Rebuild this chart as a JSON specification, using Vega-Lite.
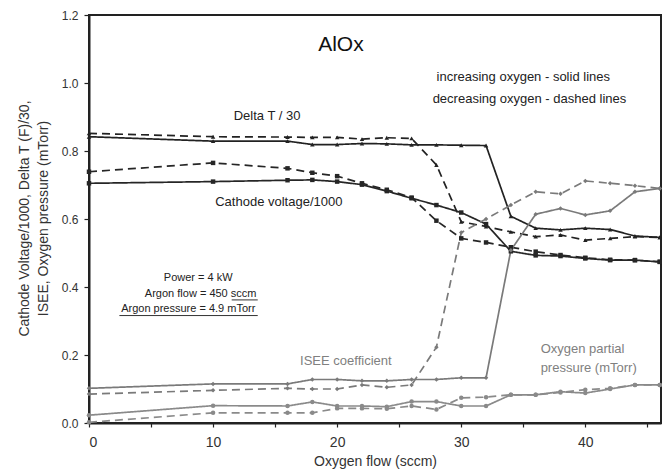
{
  "$schema": "https://vega.github.io/schema/vega-lite/v6.json",
  "width": 572,
  "height": 408,
  "autosize": {"type": "none"},
  "padding": {"left": 89, "top": 15, "right": 8, "bottom": 50},
  "background": "white",
  "config": {
    "font": "Liberation Sans",
    "view": {"stroke": "#222", "strokeWidth": 2},
    "axis": {"grid": false, "domainColor": "#222", "domainWidth": 2, "tickColor": "#222", "tickWidth": 1.2, "labelColor": "#333", "titleColor": "#333", "titleFontWeight": "normal"}
  },
  "datasets": {
    "pts": [
      {"s": "DeltaT", "dir": "inc", "x": 0, "y": 0.842}, {"s": "DeltaT", "dir": "inc", "x": 10, "y": 0.829}, {"s": "DeltaT", "dir": "inc", "x": 16, "y": 0.829}, {"s": "DeltaT", "dir": "inc", "x": 18, "y": 0.819}, {"s": "DeltaT", "dir": "inc", "x": 20, "y": 0.819}, {"s": "DeltaT", "dir": "inc", "x": 22, "y": 0.822}, {"s": "DeltaT", "dir": "inc", "x": 24, "y": 0.821}, {"s": "DeltaT", "dir": "inc", "x": 26, "y": 0.818}, {"s": "DeltaT", "dir": "inc", "x": 28, "y": 0.818}, {"s": "DeltaT", "dir": "inc", "x": 30, "y": 0.817}, {"s": "DeltaT", "dir": "inc", "x": 32, "y": 0.816}, {"s": "DeltaT", "dir": "inc", "x": 34, "y": 0.608}, {"s": "DeltaT", "dir": "inc", "x": 36, "y": 0.573}, {"s": "DeltaT", "dir": "inc", "x": 38, "y": 0.568}, {"s": "DeltaT", "dir": "inc", "x": 40, "y": 0.573}, {"s": "DeltaT", "dir": "inc", "x": 42, "y": 0.569}, {"s": "DeltaT", "dir": "inc", "x": 44, "y": 0.55}, {"s": "DeltaT", "dir": "inc", "x": 46, "y": 0.546},
      {"s": "DeltaT", "dir": "dec", "x": 0, "y": 0.852}, {"s": "DeltaT", "dir": "dec", "x": 10, "y": 0.842}, {"s": "DeltaT", "dir": "dec", "x": 16, "y": 0.841}, {"s": "DeltaT", "dir": "dec", "x": 18, "y": 0.84}, {"s": "DeltaT", "dir": "dec", "x": 20, "y": 0.84}, {"s": "DeltaT", "dir": "dec", "x": 22, "y": 0.835}, {"s": "DeltaT", "dir": "dec", "x": 24, "y": 0.839}, {"s": "DeltaT", "dir": "dec", "x": 26, "y": 0.837}, {"s": "DeltaT", "dir": "dec", "x": 28, "y": 0.759}, {"s": "DeltaT", "dir": "dec", "x": 30, "y": 0.592}, {"s": "DeltaT", "dir": "dec", "x": 32, "y": 0.578}, {"s": "DeltaT", "dir": "dec", "x": 34, "y": 0.562}, {"s": "DeltaT", "dir": "dec", "x": 36, "y": 0.548}, {"s": "DeltaT", "dir": "dec", "x": 38, "y": 0.553}, {"s": "DeltaT", "dir": "dec", "x": 40, "y": 0.538}, {"s": "DeltaT", "dir": "dec", "x": 42, "y": 0.543}, {"s": "DeltaT", "dir": "dec", "x": 44, "y": 0.548}, {"s": "DeltaT", "dir": "dec", "x": 46, "y": 0.546},
      {"s": "Cathode", "dir": "inc", "x": 0, "y": 0.705}, {"s": "Cathode", "dir": "inc", "x": 10, "y": 0.71}, {"s": "Cathode", "dir": "inc", "x": 16, "y": 0.714}, {"s": "Cathode", "dir": "inc", "x": 18, "y": 0.715}, {"s": "Cathode", "dir": "inc", "x": 20, "y": 0.71}, {"s": "Cathode", "dir": "inc", "x": 22, "y": 0.701}, {"s": "Cathode", "dir": "inc", "x": 24, "y": 0.682}, {"s": "Cathode", "dir": "inc", "x": 26, "y": 0.661}, {"s": "Cathode", "dir": "inc", "x": 28, "y": 0.641}, {"s": "Cathode", "dir": "inc", "x": 30, "y": 0.619}, {"s": "Cathode", "dir": "inc", "x": 32, "y": 0.585}, {"s": "Cathode", "dir": "inc", "x": 34, "y": 0.505}, {"s": "Cathode", "dir": "inc", "x": 36, "y": 0.493}, {"s": "Cathode", "dir": "inc", "x": 38, "y": 0.491}, {"s": "Cathode", "dir": "inc", "x": 40, "y": 0.484}, {"s": "Cathode", "dir": "inc", "x": 42, "y": 0.479}, {"s": "Cathode", "dir": "inc", "x": 44, "y": 0.479}, {"s": "Cathode", "dir": "inc", "x": 46, "y": 0.474},
      {"s": "Cathode", "dir": "dec", "x": 0, "y": 0.739}, {"s": "Cathode", "dir": "dec", "x": 10, "y": 0.765}, {"s": "Cathode", "dir": "dec", "x": 16, "y": 0.749}, {"s": "Cathode", "dir": "dec", "x": 18, "y": 0.736}, {"s": "Cathode", "dir": "dec", "x": 20, "y": 0.726}, {"s": "Cathode", "dir": "dec", "x": 22, "y": 0.705}, {"s": "Cathode", "dir": "dec", "x": 24, "y": 0.686}, {"s": "Cathode", "dir": "dec", "x": 26, "y": 0.663}, {"s": "Cathode", "dir": "dec", "x": 28, "y": 0.595}, {"s": "Cathode", "dir": "dec", "x": 30, "y": 0.543}, {"s": "Cathode", "dir": "dec", "x": 32, "y": 0.531}, {"s": "Cathode", "dir": "dec", "x": 34, "y": 0.517}, {"s": "Cathode", "dir": "dec", "x": 36, "y": 0.504}, {"s": "Cathode", "dir": "dec", "x": 38, "y": 0.494}, {"s": "Cathode", "dir": "dec", "x": 40, "y": 0.486}, {"s": "Cathode", "dir": "dec", "x": 42, "y": 0.48}, {"s": "Cathode", "dir": "dec", "x": 44, "y": 0.479}, {"s": "Cathode", "dir": "dec", "x": 46, "y": 0.474},
      {"s": "ISEE", "dir": "inc", "x": 0, "y": 0.102}, {"s": "ISEE", "dir": "inc", "x": 10, "y": 0.115}, {"s": "ISEE", "dir": "inc", "x": 16, "y": 0.115}, {"s": "ISEE", "dir": "inc", "x": 18, "y": 0.128}, {"s": "ISEE", "dir": "inc", "x": 20, "y": 0.128}, {"s": "ISEE", "dir": "inc", "x": 22, "y": 0.124}, {"s": "ISEE", "dir": "inc", "x": 24, "y": 0.124}, {"s": "ISEE", "dir": "inc", "x": 26, "y": 0.128}, {"s": "ISEE", "dir": "inc", "x": 28, "y": 0.128}, {"s": "ISEE", "dir": "inc", "x": 30, "y": 0.133}, {"s": "ISEE", "dir": "inc", "x": 32, "y": 0.133}, {"s": "ISEE", "dir": "inc", "x": 34, "y": 0.508}, {"s": "ISEE", "dir": "inc", "x": 36, "y": 0.614}, {"s": "ISEE", "dir": "inc", "x": 38, "y": 0.631}, {"s": "ISEE", "dir": "inc", "x": 40, "y": 0.612}, {"s": "ISEE", "dir": "inc", "x": 42, "y": 0.624}, {"s": "ISEE", "dir": "inc", "x": 44, "y": 0.68}, {"s": "ISEE", "dir": "inc", "x": 46, "y": 0.69},
      {"s": "ISEE", "dir": "dec", "x": 0, "y": 0.085}, {"s": "ISEE", "dir": "dec", "x": 10, "y": 0.096}, {"s": "ISEE", "dir": "dec", "x": 16, "y": 0.102}, {"s": "ISEE", "dir": "dec", "x": 18, "y": 0.1}, {"s": "ISEE", "dir": "dec", "x": 20, "y": 0.1}, {"s": "ISEE", "dir": "dec", "x": 22, "y": 0.112}, {"s": "ISEE", "dir": "dec", "x": 24, "y": 0.105}, {"s": "ISEE", "dir": "dec", "x": 26, "y": 0.112}, {"s": "ISEE", "dir": "dec", "x": 28, "y": 0.223}, {"s": "ISEE", "dir": "dec", "x": 30, "y": 0.56}, {"s": "ISEE", "dir": "dec", "x": 32, "y": 0.6}, {"s": "ISEE", "dir": "dec", "x": 34, "y": 0.641}, {"s": "ISEE", "dir": "dec", "x": 36, "y": 0.68}, {"s": "ISEE", "dir": "dec", "x": 38, "y": 0.674}, {"s": "ISEE", "dir": "dec", "x": 40, "y": 0.712}, {"s": "ISEE", "dir": "dec", "x": 42, "y": 0.705}, {"s": "ISEE", "dir": "dec", "x": 44, "y": 0.698}, {"s": "ISEE", "dir": "dec", "x": 46, "y": 0.69},
      {"s": "O2", "dir": "inc", "x": 0, "y": 0.023}, {"s": "O2", "dir": "inc", "x": 10, "y": 0.051}, {"s": "O2", "dir": "inc", "x": 16, "y": 0.05}, {"s": "O2", "dir": "inc", "x": 18, "y": 0.062}, {"s": "O2", "dir": "inc", "x": 20, "y": 0.05}, {"s": "O2", "dir": "inc", "x": 22, "y": 0.05}, {"s": "O2", "dir": "inc", "x": 24, "y": 0.048}, {"s": "O2", "dir": "inc", "x": 26, "y": 0.063}, {"s": "O2", "dir": "inc", "x": 28, "y": 0.063}, {"s": "O2", "dir": "inc", "x": 30, "y": 0.05}, {"s": "O2", "dir": "inc", "x": 32, "y": 0.05}, {"s": "O2", "dir": "inc", "x": 34, "y": 0.083}, {"s": "O2", "dir": "inc", "x": 36, "y": 0.083}, {"s": "O2", "dir": "inc", "x": 38, "y": 0.092}, {"s": "O2", "dir": "inc", "x": 40, "y": 0.088}, {"s": "O2", "dir": "inc", "x": 42, "y": 0.1}, {"s": "O2", "dir": "inc", "x": 44, "y": 0.112}, {"s": "O2", "dir": "inc", "x": 46, "y": 0.112},
      {"s": "O2", "dir": "dec", "x": 0, "y": 0.002}, {"s": "O2", "dir": "dec", "x": 10, "y": 0.03}, {"s": "O2", "dir": "dec", "x": 16, "y": 0.03}, {"s": "O2", "dir": "dec", "x": 18, "y": 0.03}, {"s": "O2", "dir": "dec", "x": 20, "y": 0.043}, {"s": "O2", "dir": "dec", "x": 22, "y": 0.043}, {"s": "O2", "dir": "dec", "x": 24, "y": 0.042}, {"s": "O2", "dir": "dec", "x": 26, "y": 0.05}, {"s": "O2", "dir": "dec", "x": 28, "y": 0.04}, {"s": "O2", "dir": "dec", "x": 30, "y": 0.074}, {"s": "O2", "dir": "dec", "x": 32, "y": 0.076}, {"s": "O2", "dir": "dec", "x": 34, "y": 0.083}, {"s": "O2", "dir": "dec", "x": 36, "y": 0.083}, {"s": "O2", "dir": "dec", "x": 38, "y": 0.09}, {"s": "O2", "dir": "dec", "x": 40, "y": 0.098}, {"s": "O2", "dir": "dec", "x": 42, "y": 0.102}, {"s": "O2", "dir": "dec", "x": 44, "y": 0.112}, {"s": "O2", "dir": "dec", "x": 46, "y": 0.112}
    ],
    "notes": [
      {"kind": "title", "text": "AlOx", "x": 20.3, "y": 1.112},
      {"kind": "black", "text": "increasing oxygen - solid lines", "x": 35.0, "y": 1.018},
      {"kind": "black", "text": "decreasing oxygen - dashed lines", "x": 35.5, "y": 0.953},
      {"kind": "black", "text": "Delta T / 30", "x": 14.35, "y": 0.903},
      {"kind": "black", "text": "Cathode voltage/1000", "x": 15.3, "y": 0.65},
      {"kind": "small", "text": "Power  = 4 kW", "x": 8.8, "y": 0.426},
      {"kind": "small", "text": "Argon flow = 450 sccm", "x": 9.0, "y": 0.379},
      {"kind": "small", "text": "Argon pressure = 4.9 mTorr", "x": 8.0, "y": 0.335},
      {"kind": "grey", "text": "ISEE coefficient", "x": 20.7, "y": 0.182},
      {"kind": "greyleft", "text": "Oxygen partial", "x": 36.4, "y": 0.218},
      {"kind": "greyleft", "text": "pressure (mTorr)", "x": 36.4, "y": 0.162}
    ],
    "underlines": [
      {"x": 11.5, "x2": 13.6, "y": 0.362},
      {"x": 2.45, "x2": 13.6, "y": 0.316}
    ]
  },
  "layer": [
    {
      "data": {"name": "pts"},
      "mark": {"type": "line", "strokeWidth": 1.7},
      "encoding": {
        "x": {"field": "x", "type": "quantitative", "scale": {"domain": [0, 46.1], "nice": false, "zero": false},
          "axis": {"values": [0, 5, 10, 15, 20, 25, 30, 35, 40, 45], "labelExpr": "datum.value % 10 == 0 ? datum.label : ''", "tickSize": 4, "labelFontSize": 14, "labelPadding": 8, "title": "Oxygen flow (sccm)", "titleFontSize": 14, "titlePadding": 5}},
        "y": {"field": "y", "type": "quantitative", "scale": {"domain": [0, 1.2], "nice": false},
          "axis": {"values": [0, 0.1, 0.2, 0.3, 0.4, 0.5, 0.6, 0.7, 0.8, 0.9, 1.0, 1.1, 1.2], "labelExpr": "round(datum.value * 10) % 2 == 0 ? format(datum.value, '.1f') : ''", "tickSize": 5, "labelFontSize": 12, "labelPadding": 6,
            "title": ["Cathode Voltage/1000, Delta T (F)/30,", "ISEE, Oxygen pressure (mTorr)"], "titleFontSize": 14, "titleLineHeight": 19, "titleX": -65, "titleY": 203, "titleBaseline": "middle", "titleAlign": "center", "titleAngle": -90}},
        "color": {"field": "s", "type": "nominal", "legend": null, "scale": {"domain": ["DeltaT", "Cathode", "ISEE", "O2"], "range": ["#222222", "#262626", "#7a7a7a", "#8a8a8a"]}},
        "strokeDash": {"field": "dir", "type": "nominal", "legend": null, "scale": {"domain": ["inc", "dec"], "range": [[1, 0], [8, 5]]}}
      }
    },
    {
      "data": {"name": "pts"},
      "mark": {"type": "point", "filled": true, "size": 20, "opacity": 1},
      "encoding": {
        "x": {"field": "x", "type": "quantitative"},
        "y": {"field": "y", "type": "quantitative"},
        "color": {"field": "s", "type": "nominal", "legend": null},
        "shape": {"field": "s", "type": "nominal", "legend": null, "scale": {"domain": ["DeltaT", "Cathode", "ISEE", "O2"], "range": ["triangle-up", "square", "diamond", "circle"]}}
      }
    },
    {
      "data": {"name": "underlines"},
      "mark": {"type": "rule", "color": "#333", "strokeWidth": 1},
      "encoding": {"x": {"field": "x", "type": "quantitative"}, "x2": {"field": "x2"}, "y": {"field": "y", "type": "quantitative"}}
    },
    {
      "data": {"name": "notes"},
      "transform": [{"filter": "datum.kind == 'title'"}],
      "mark": {"type": "text", "fontSize": 21, "color": "#111", "align": "center", "baseline": "middle"},
      "encoding": {"x": {"field": "x", "type": "quantitative"}, "y": {"field": "y", "type": "quantitative"}, "text": {"field": "text"}}
    },
    {
      "data": {"name": "notes"},
      "transform": [{"filter": "datum.kind == 'black'"}],
      "mark": {"type": "text", "fontSize": 13, "color": "#222", "align": "center", "baseline": "middle"},
      "encoding": {"x": {"field": "x", "type": "quantitative"}, "y": {"field": "y", "type": "quantitative"}, "text": {"field": "text"}}
    },
    {
      "data": {"name": "notes"},
      "transform": [{"filter": "datum.kind == 'small'"}],
      "mark": {"type": "text", "fontSize": 11, "color": "#222", "align": "center", "baseline": "middle"},
      "encoding": {"x": {"field": "x", "type": "quantitative"}, "y": {"field": "y", "type": "quantitative"}, "text": {"field": "text"}}
    },
    {
      "data": {"name": "notes"},
      "transform": [{"filter": "datum.kind == 'grey'"}],
      "mark": {"type": "text", "fontSize": 13, "color": "#808080", "align": "center", "baseline": "middle"},
      "encoding": {"x": {"field": "x", "type": "quantitative"}, "y": {"field": "y", "type": "quantitative"}, "text": {"field": "text"}}
    },
    {
      "data": {"name": "notes"},
      "transform": [{"filter": "datum.kind == 'greyleft'"}],
      "mark": {"type": "text", "fontSize": 13, "color": "#808080", "align": "left", "baseline": "middle"},
      "encoding": {"x": {"field": "x", "type": "quantitative"}, "y": {"field": "y", "type": "quantitative"}, "text": {"field": "text"}}
    }
  ]
}
